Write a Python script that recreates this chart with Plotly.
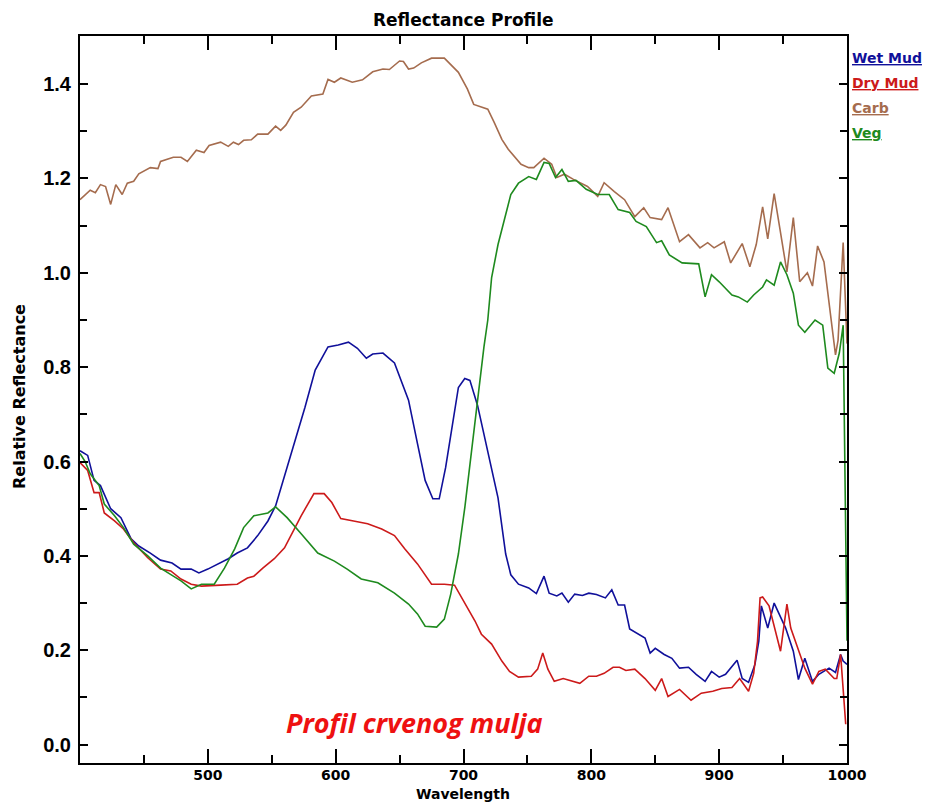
import plotly.graph_objects as go

# ---------------- data ----------------
series_names = ["Wet Mud", "Dry Mud", "Carb", "Veg"]
series_colors = ["#10109a", "#cc1a1a", "#a56c4e", "#1e8a1e"]

wet_wl = [400, 406, 411, 416, 424, 432, 440, 446, 455, 463, 472, 479, 487, 493, 500, 508, 516, 523, 531, 539,
          547, 553, 560, 568, 576, 584, 594, 602, 610, 617, 624, 629, 637, 646, 657, 664, 670, 676, 681, 686,
          691, 696, 701, 705, 711, 719, 727, 733, 737, 743, 751, 757, 763, 767, 773, 777, 782, 787, 793, 798,
          804, 811, 816, 821, 826, 830, 837, 842, 846, 850, 857, 863, 869, 876, 882, 889, 894, 900, 905, 914,
          918, 923, 928, 931, 933, 938, 943, 949, 952, 958, 962, 967, 973, 978, 986, 991, 995, 997, 1000]
wet_val = [0.623, 0.613, 0.560, 0.549, 0.500, 0.481, 0.436, 0.421, 0.406, 0.391, 0.385, 0.372, 0.372, 0.364,
           0.372, 0.383, 0.394, 0.406, 0.417, 0.443, 0.474, 0.506, 0.570, 0.640, 0.715, 0.794, 0.843, 0.847,
           0.853, 0.840, 0.819, 0.828, 0.830, 0.809, 0.730, 0.638, 0.560, 0.521, 0.521, 0.587, 0.672, 0.757,
           0.776, 0.772, 0.719, 0.623, 0.523, 0.404, 0.360, 0.340, 0.332, 0.320, 0.357, 0.321, 0.315, 0.321,
           0.302, 0.319, 0.316, 0.321, 0.318, 0.311, 0.328, 0.296, 0.296, 0.245, 0.234, 0.226, 0.194, 0.204,
           0.191, 0.183, 0.162, 0.164, 0.149, 0.134, 0.155, 0.143, 0.149, 0.179, 0.140, 0.132, 0.170, 0.219,
           0.294, 0.247, 0.300, 0.262, 0.247, 0.198, 0.138, 0.183, 0.134, 0.149, 0.162, 0.153, 0.191, 0.177, 0.170]

dry_wl = [400, 406, 411, 415, 419, 427, 434, 442, 453, 463, 471, 479, 487, 495, 510, 523, 531, 536, 543, 552,
          560, 568, 573, 583, 591, 597, 604, 614, 625, 636, 646, 654, 664, 675, 685, 693, 701, 709, 714, 722,
          730, 736, 743, 753, 758, 762, 766, 771, 778, 783, 791, 798, 804, 810, 817, 822, 827, 834, 842, 850,
          855, 860, 869, 878, 886, 895, 902, 910, 916, 923, 927, 930, 932, 934, 939, 948, 953, 956, 962, 967,
          973, 978, 983, 990, 992, 995, 999]
dry_val = [0.598, 0.581, 0.534, 0.534, 0.491, 0.474, 0.457, 0.428, 0.396, 0.372, 0.368, 0.351, 0.340, 0.336,
           0.338, 0.340, 0.353, 0.357, 0.374, 0.394, 0.417, 0.460, 0.485, 0.532, 0.532, 0.513, 0.479, 0.474,
           0.468, 0.457, 0.443, 0.415, 0.383, 0.340, 0.340, 0.338, 0.300, 0.262, 0.234, 0.213, 0.177, 0.155,
           0.143, 0.145, 0.160, 0.194, 0.160, 0.134, 0.140, 0.136, 0.130, 0.145, 0.145, 0.151, 0.164, 0.164,
           0.157, 0.160, 0.140, 0.115, 0.140, 0.102, 0.117, 0.094, 0.109, 0.113, 0.119, 0.121, 0.140, 0.113,
           0.151, 0.219, 0.311, 0.313, 0.294, 0.198, 0.298, 0.247, 0.198, 0.162, 0.128, 0.155, 0.160, 0.140,
           0.140, 0.191, 0.043]

carb_wl = [400, 408, 412, 416, 420, 424, 428, 433, 437, 442, 446, 455, 461, 463, 473, 479, 484, 491, 497, 501,
           510, 516, 520, 524, 528, 534, 539, 547, 553, 557, 561, 567, 573, 581, 590, 594, 599, 604, 613, 621,
           629, 637, 642, 650, 653, 657, 661, 667, 675, 685, 696, 703, 708, 714, 719, 724, 730, 735, 740, 745,
           751, 755, 763, 769, 773, 779, 786, 797, 805, 810, 818, 826, 834, 841, 846, 855, 860, 869, 876, 885,
           891, 896, 904, 909, 918, 924, 929, 934, 938, 943, 948, 953, 958, 963, 969, 973, 977, 982, 991, 993,
           996, 997, 1000]
carb_val = [1.155, 1.175, 1.170, 1.187, 1.183, 1.145, 1.187, 1.166, 1.190, 1.194, 1.210, 1.223, 1.221, 1.236,
            1.245, 1.245, 1.236, 1.260, 1.255, 1.270, 1.277, 1.268, 1.277, 1.272, 1.281, 1.282, 1.294, 1.294,
            1.311, 1.302, 1.313, 1.340, 1.351, 1.375, 1.379, 1.410, 1.404, 1.413, 1.404, 1.409, 1.426, 1.432,
            1.431, 1.449, 1.448, 1.432, 1.434, 1.445, 1.455, 1.455, 1.425, 1.390, 1.357, 1.351, 1.347, 1.319,
            1.283, 1.262, 1.247, 1.230, 1.223, 1.223, 1.243, 1.230, 1.202, 1.209, 1.198, 1.183, 1.162, 1.191,
            1.172, 1.155, 1.119, 1.138, 1.117, 1.113, 1.138, 1.066, 1.081, 1.053, 1.064, 1.053, 1.066, 1.021,
            1.062, 1.013, 1.060, 1.140, 1.072, 1.168, 1.085, 1.002, 1.117, 0.981, 1.000, 0.972, 1.057, 1.023,
            0.826, 0.857, 1.013, 1.064, 0.850]

veg_wl = [400, 404, 408, 415, 419, 427, 434, 442, 453, 463, 473, 479, 487, 495, 505, 513, 521, 528, 536, 547,
          553, 562, 573, 586, 599, 609, 620, 633, 646, 657, 664, 670, 679, 685, 690, 696, 701, 706, 711, 716,
          719, 722, 727, 732, 737, 743, 751, 757, 763, 767, 772, 777, 782, 788, 796, 805, 814, 821, 830, 835,
          843, 851, 855, 861, 871, 884, 889, 894, 900, 910, 915, 922, 927, 934, 937, 943, 948, 953, 958, 962,
          967, 975, 981, 985, 990, 994, 997, 1000]
veg_val = [0.617, 0.600, 0.574, 0.549, 0.510, 0.485, 0.460, 0.425, 0.400, 0.374, 0.357, 0.347, 0.330, 0.340,
           0.340, 0.374, 0.415, 0.460, 0.485, 0.491, 0.504, 0.481, 0.447, 0.406, 0.389, 0.372, 0.351, 0.343,
           0.321, 0.298, 0.277, 0.251, 0.249, 0.266, 0.319, 0.404, 0.502, 0.617, 0.736, 0.843, 0.900, 0.990,
           1.060, 1.110, 1.166, 1.190, 1.204, 1.198, 1.234, 1.232, 1.202, 1.219, 1.194, 1.196, 1.177, 1.166,
           1.166, 1.134, 1.128, 1.109, 1.098, 1.064, 1.068, 1.038, 1.021, 1.019, 0.949, 0.996, 0.981, 0.953,
           0.949, 0.938, 0.953, 0.970, 0.985, 0.974, 1.023, 0.996, 0.957, 0.889, 0.874, 0.900, 0.889, 0.798,
           0.787, 0.830, 0.889, 0.220]

x_tick_vals = [500, 600, 700, 800, 900, 1000]
x_minor_vals = [450, 550, 650, 750, 850, 950]
y_tick_vals = [0.0, 0.2, 0.4, 0.6, 0.8, 1.0, 1.2, 1.4]
y_minor_vals = [0.1, 0.3, 0.5, 0.7, 0.9, 1.1, 1.3]

title_text = "Reflectance Profile"
x_title = "Wavelength"
y_title = "Relative Reflectance"
note_text = "Profil crvenog mulja"

# ---------------- figure ----------------
W, H = 925, 803
L, R, T, B = 80, 78, 36, 40
pw, ph = W - L - R, H - T - B


def px(xp):
    return (xp - L) / pw


def py(yp):
    return (H - B - yp) / ph


xs = [wet_wl, dry_wl, carb_wl, veg_wl]
ys = [wet_val, dry_val, carb_val, veg_val]

fig = go.Figure()
for name, col, x, y in zip(series_names, series_colors, xs, ys):
    fig.add_trace(go.Scatter(x=x, y=y, mode="lines", name=name,
                             line=dict(color=col, width=1.6), showlegend=False))

dv = "DejaVu Sans, sans-serif"
lib = "Liberation Sans, Arial, sans-serif"

fig.update_layout(
    width=W, height=H,
    margin=dict(l=L, r=R, t=T, b=B),
    paper_bgcolor="white", plot_bgcolor="white",
    xaxis=dict(range=[400, 1000], tickvals=x_tick_vals, ticktext=[str(v) for v in x_tick_vals],
               ticks="inside", ticklen=14, tickwidth=2, tickcolor="black",
               minor=dict(tickvals=x_minor_vals, ticks="inside", ticklen=8, tickwidth=2, tickcolor="black"),
               showline=True, linewidth=2, linecolor="black", mirror="ticks",
               showgrid=False, zeroline=False, ticklabelstandoff=-2,
               tickfont=dict(family=dv, size=14, color="black", weight="bold")),
    yaxis=dict(range=[-0.039, 1.502], tickvals=y_tick_vals, ticktext=[f"{v:.1f}" for v in y_tick_vals],
               ticks="inside", ticklen=8, tickwidth=1.5, tickcolor="black",
               minor=dict(tickvals=y_minor_vals, ticks="inside", ticklen=7, tickwidth=1.5, tickcolor="black"),
               showline=True, linewidth=2, linecolor="black", mirror="ticks",
               showgrid=False, zeroline=False, ticklabelstandoff=3,
               tickfont=dict(family=lib, size=20, color="black", weight="bold")),
)

ann = []
ann.append(dict(text=f"<b>{title_text}</b>", x=px(463), y=py(20), xref="paper", yref="paper",
                xanchor="center", yanchor="middle", showarrow=False,
                font=dict(family=dv, size=17, color="black")))
ann.append(dict(text=f"<b>{x_title}</b>", x=px(463), y=py(794), xref="paper", yref="paper",
                xanchor="center", yanchor="middle", showarrow=False,
                font=dict(family=dv, size=14, color="black")))
ann.append(dict(text=f"<b>{y_title}</b>", x=px(19), y=py(397), xref="paper", yref="paper",
                xanchor="center", yanchor="middle", showarrow=False, textangle=-90,
                font=dict(family=dv, size=16, color="black")))
ann.append(dict(text=f"<b><i>{note_text}</i></b>", x=px(414), y=py(722), xref="paper", yref="paper",
                xanchor="center", yanchor="middle", showarrow=False,
                font=dict(family="Open Sans, Lato, sans-serif", size=27, color="#ee1111")))
leg_y = [58, 83, 108, 133]
for name, col, yy in zip(series_names, series_colors, leg_y):
    ann.append(dict(text=f"<u><b>{name}</b></u>", x=px(850), y=py(yy), xref="paper", yref="paper",
                    xanchor="left", yanchor="middle", showarrow=False,
                    font=dict(family=dv, size=14, color=col)))
fig.update_layout(annotations=ann)

fig.write_html("out.html", config={"displayModeBar": False},
               post_script="document.body.style.margin='0';")
